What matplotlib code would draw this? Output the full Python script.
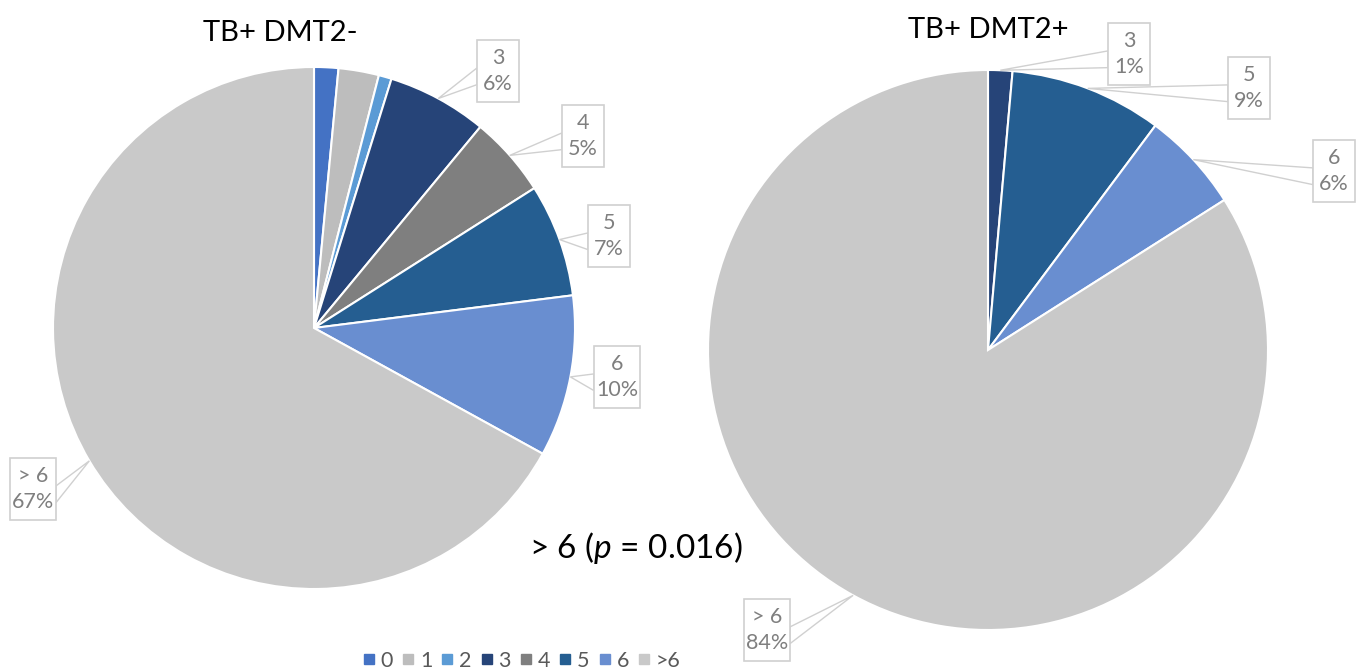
import numpy as np
import matplotlib.pyplot as plt
from matplotlib.lines import Line2D
from matplotlib.patches import Polygon, Rectangle

plt.rcParams['font.family'] = ['Lato', 'DejaVu Sans']
plt.rcParams['mathtext.fontset'] = 'custom'
plt.rcParams['mathtext.rm'] = 'Lato'
plt.rcParams['mathtext.it'] = 'Lato:italic'

# data
categories = ['0', '1', '2', '3', '4', '5', '6', '>6']
label_names = ['0', '1', '2', '3', '4', '5', '6', '> 6']
tb_dm_neg = [1.5, 2.5, 0.8, 6.2, 5.0, 7.0, 10.0, 67.0]
tb_dm_pos = [0.0, 0.0, 0.0, 1.4, 0.0, 8.8, 5.8, 84.0]
colors = ['#4472C4', '#BDBDBD', '#5B9BD5', '#264478', '#7F7F7F', '#255E91', '#698ED0', '#C9C9C9']
titles = ['TB+ DMT2-', 'TB+ DMT2+']
p_text = r'> 6 ($\mathit{p}$ = 0.016)'

W, H = 1359, 671
fig = plt.figure(figsize=(W / 100, H / 100), dpi=100)
ax = fig.add_axes([0, 0, 1, 1])

def py(y):  # pixel y (top-down) -> data y
    return H - y

# pie centre, radius, and which labels get boxes (box centre in pixels)
pies = [
    dict(vals=tb_dm_neg, c=(314, 328), r=261, title=titles[0], tpos=(280, 33),
         boxes={3: (498, 71), 4: (583, 136), 5: (609, 236), 6: (617, 377), 7: (33, 489)}),
    dict(vals=tb_dm_pos, c=(988, 350), r=280, title=titles[1], tpos=(988, 30),
         boxes={3: (1129, 54), 5: (1249, 88), 6: (1334, 171), 7: (767, 630)}),
]

box_w, box_h = 42, 62
line_col = '#D0D0D0'
txt_col = '#7F7F7F'

for p in pies:
    vals = np.array(p['vals'])
    keep = [i for i in range(len(vals)) if vals[i] > 0]
    cx, cy = p['c']
    ax.pie(vals[keep], colors=[colors[i] for i in keep], startangle=90, counterclock=False,
           center=(cx, py(cy)), radius=p['r'],
           wedgeprops=dict(edgecolor='white', linewidth=1.5))
    total = vals.sum()
    cum = np.cumsum(vals) - vals / 2
    for i, (bx, by) in p['boxes'].items():
        ang = np.deg2rad(cum[i] / total * 360)
        tx = cx + p['r'] * np.sin(ang)
        ty = cy - p['r'] * np.cos(ang)
        w = box_w + (4 if len(label_names[i]) > 1 or vals[i] >= 10 else 0)
        x0, x1 = bx - w / 2, bx + w / 2
        ex = x0 if tx < bx else x1
        b1 = by - 0.05 * box_h
        b2 = by + 0.22 * box_h
        poly = Polygon([(tx, py(ty)), (ex, py(b1)), (ex, py(b2))], closed=True,
                       facecolor='white', edgecolor=line_col, linewidth=1, zorder=3)
        ax.add_patch(poly)
        ax.add_patch(Rectangle((x0, py(by + box_h / 2)), w, box_h, facecolor='white',
                               edgecolor=line_col, linewidth=1.2, zorder=4))
        pct = '{:.0f}%'.format(vals[i] / total * 100)
        ax.text(bx, py(by), label_names[i] + '\n' + pct, ha='center', va='center',
                fontsize=15.5, color=txt_col, linespacing=1.4, zorder=5)
    ax.text(p['tpos'][0], py(p['tpos'][1]), p['title'], ha='center', va='center',
            fontsize=21, color='black')

ax.text(636, py(548), p_text, ha='center', va='center', fontsize=24, color='black')

ax.set_xlim(0, W)
ax.set_ylim(0, H)
ax.set_aspect('equal')
ax.axis('off')

handles = [Line2D([], [], marker='s', linestyle='none', markersize=6.5, color=c) for c in colors]
fig.legend(handles, categories, loc='center', bbox_to_anchor=(522 / W, 10 / H), ncol=8,
           frameon=False, fontsize=15.5, handlelength=0.5, handletextpad=0.3, columnspacing=0.45,
           labelcolor='#595959')

fig.savefig('out.png', dpi=100)
